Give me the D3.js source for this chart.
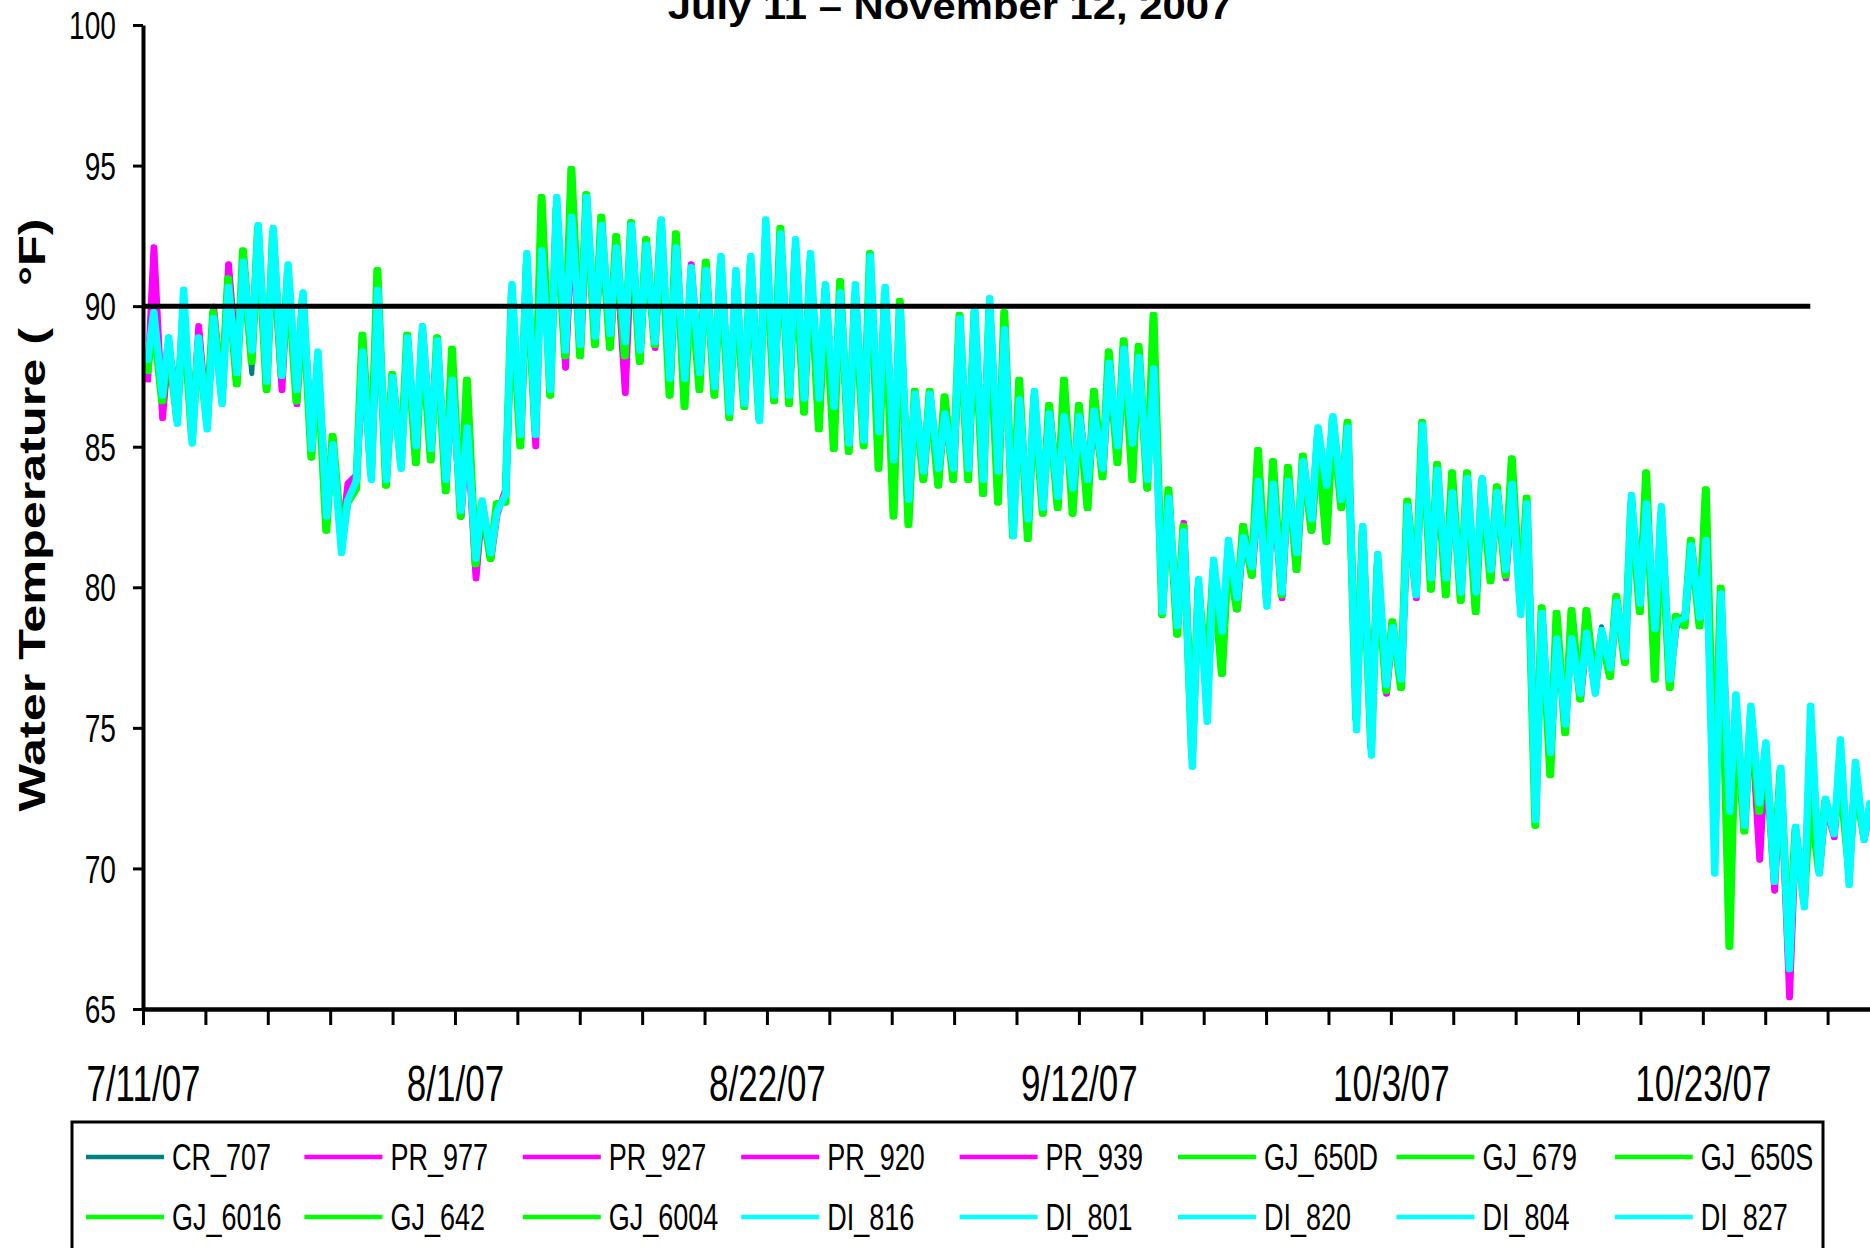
<!DOCTYPE html>
<html><head><meta charset="utf-8">
<script src="https://cdn.jsdelivr.net/npm/d3@7"></script>
<style>html,body{margin:0;padding:0;background:#fff;overflow:hidden;} svg{display:block;}</style>
</head><body>
<svg id="chart" width="1870" height="1248"></svg>
<script>
// ---------- DATA ----------
const titleText = "July 11 \u2013 November 12, 2007";
const yTitleText = "Water Temperature (   \u00B0F)";
const seriesNames = ["CR_707","PR_977","PR_927","PR_920","PR_939","GJ_650D","GJ_679","GJ_650S","GJ_6016","GJ_642","GJ_6004","DI_816","DI_801","DI_820","DI_804","DI_827"];
const seriesGroup = ["CR","PR","PR","PR","PR","GJ","GJ","GJ","GJ","GJ","GJ","DI","DI","DI","DI","DI"];
const yTickValues = [65,70,75,80,85,90,95,100];
const xTickLabels = ["7/11/07","8/1/07","8/22/07","9/12/07","10/3/07","10/23/07"];
const thresholdDays = [0, 111.7];
const thresholdValue = 90;

// daily max / min readings (day 0 = 7/11/07)
const crMax = [89.5,88.9,89.8,88.6,89.2,90.2,91.0,92.0,92.2,91.0,
 90.2,88.0,85.0,83.0,88.0,90.2,87.3,88.7,89.0,88.6,
 87.2,85.5,83.0,82.6,90.4,91.5,91.8,93.5,93.0,93.5,
 92.6,92.0,92.6,92.0,92.8,91.9,91.2,91.1,91.6,91.0,
 91.5,92.8,92.3,92.1,91.6,90.6,90.3,90.6,91.5,90.5,
 89.8,86.7,86.7,86.0,89.3,89.8,90.0,89.0,86.5,86.8,
 86.0,85.9,85.9,86.1,87.8,88.3,88.0,87.6,83.0,81.8,
 80.1,80.8,81.5,81.6,83.6,83.5,83.6,84.3,85.5,85.9,
 85.5,82.0,81.0,78.4,82.7,85.6,84.0,83.2,83.7,83.7,
 83.2,83.5,83.0,78.9,78.0,78.0,78.2,78.6,79.3,83.1,
 82.8,82.7,78.6,81.3,81.5,79.6,76.0,75.6,74.3,73.4,
 71.3,75.5,72.3,74.4,73.6,72.2];
const crMin = [88.2,87.0,86.8,86.5,86.4,86.7,87.7,87.6,87.4,88.0,
 87.2,85.0,82.7,81.4,84.0,84.0,84.0,84.4,85.2,85.1,
 84.0,82.9,81.2,81.4,83.5,85.6,85.6,87.2,88.6,88.8,
 89.1,89.2,88.9,88.6,88.9,87.6,87.6,87.8,87.3,86.4,
 86.7,86.1,87.0,87.0,86.9,86.9,86.6,85.3,85.4,85.7,
 84.7,83.3,84.3,84.4,84.4,84.4,84.0,84.3,82.0,82.6,
 83.0,83.4,83.7,84.0,84.4,85.2,85.3,84.0,79.3,78.8,
 73.8,75.4,78.6,79.8,80.9,79.5,80.0,81.4,82.6,83.8,
 83.3,75.1,74.2,76.7,76.9,79.9,80.5,80.5,80.0,80.0,
 80.8,80.8,79.2,71.9,74.3,75.3,76.4,76.4,77.3,77.7,
 79.6,78.7,76.9,79.1,79.1,70.0,72.2,71.7,72.5,69.7,
 66.6,68.8,70.0,71.4,69.6,71.2];
const prMax = [92.1,88.6,89.5,89.3,90.0,91.5,91.4,92.3,91.8,91.2,
 90.0,87.8,85.0,83.7,87.6,89.8,87.2,88.6,89.3,88.5,
 87.0,85.5,82.9,82.6,89.8,91.2,92.6,93.0,92.5,93.0,
 92.3,91.8,92.2,91.8,92.5,91.8,91.5,91.2,91.5,90.9,
 91.5,92.4,92.0,92.0,91.2,90.2,90.1,90.5,91.0,90.4,
 89.6,86.6,86.5,86.0,89.0,89.5,90.0,89.0,86.5,86.6,
 86.4,86.0,86.3,86.0,87.6,88.0,87.8,87.6,83.0,82.3,
 80.1,80.6,81.5,81.8,83.4,83.2,83.5,84.2,85.0,85.8,
 85.5,82.0,81.0,78.5,82.5,85.4,84.0,83.2,83.5,83.6,
 83.2,83.4,82.8,79.0,78.1,78.3,78.2,78.4,79.3,82.8,
 82.8,82.6,78.6,81.2,81.4,79.6,75.8,75.5,74.2,73.2,
 71.2,75.0,72.2,73.9,73.4,72.2];
const prMin = [87.3,86.0,86.3,85.4,85.8,86.7,87.8,88.2,87.6,87.0,
 86.5,85.3,83.0,81.8,84.0,84.1,84.0,84.6,84.5,85.0,
 83.8,82.5,80.3,81.0,83.5,85.2,85.0,87.5,87.8,88.3,
 89.0,88.6,86.9,88.4,88.5,87.0,87.2,87.5,87.0,86.5,
 86.4,86.5,86.9,86.6,86.5,86.0,86.2,85.0,85.4,85.0,
 84.3,83.4,83.9,84.0,84.0,84.0,84.0,84.3,82.0,82.5,
 83.0,83.3,83.5,83.7,84.0,84.6,84.6,84.2,79.2,78.8,
 74.0,75.8,78.2,79.2,80.4,79.6,79.6,80.8,82.0,83.2,
 83.0,75.5,74.6,76.2,76.6,79.6,80.0,80.1,79.9,79.7,
 80.4,80.3,79.4,72.5,74.0,75.3,76.0,76.3,77.0,77.8,
 79.6,77.0,76.8,78.8,78.8,70.5,72.2,71.4,70.3,69.2,
 65.4,68.7,69.9,71.1,69.6,71.0];
const gjMax = [89.5,88.6,89.8,88.6,89.8,91.0,92.0,92.8,92.6,91.2,
 90.3,88.0,85.4,83.0,89.0,91.3,87.6,89.0,89.0,88.9,
 88.5,87.4,83.0,83.0,90.5,91.5,93.9,93.5,94.9,94.0,
 93.2,92.5,93.0,92.4,93.0,92.6,91.0,91.6,91.5,90.6,
 91.5,92.4,92.8,92.0,91.6,90.6,90.9,90.4,91.9,90.5,
 90.2,87.0,87.0,86.8,89.7,89.8,90.0,89.8,87.4,86.8,
 86.5,87.4,86.5,87.0,88.4,88.8,88.6,89.7,83.5,82.2,
 80.0,80.6,81.2,82.2,84.9,84.5,84.3,84.7,85.4,86.0,
 85.9,82.0,80.8,78.8,83.1,85.9,84.4,84.1,84.1,83.8,
 83.6,84.6,83.2,79.3,79.1,79.2,79.2,78.3,79.7,83.0,
 84.1,82.6,79.0,81.7,83.5,80.0,75.6,75.4,74.2,73.5,
 71.4,72.5,72.4,73.2,73.0,72.2];
const gjMin = [87.6,86.6,86.0,85.3,85.9,86.8,87.2,88.0,87.0,87.5,
 86.6,84.6,82.0,81.8,83.5,84.0,83.6,84.4,84.4,84.5,
 83.4,82.5,80.8,81.0,83.0,85.0,85.6,86.8,88.2,88.2,
 88.6,88.5,88.2,88.0,88.6,86.8,86.4,87.0,86.8,86.0,
 86.4,86.0,86.6,86.5,86.2,85.6,84.9,84.8,85.0,84.2,
 82.5,82.2,83.8,83.6,83.8,83.8,83.3,83.0,81.8,81.7,
 82.6,82.8,82.6,82.8,83.9,84.4,83.8,83.5,79.0,78.3,
 74.0,76.7,76.9,79.2,80.4,79.6,79.7,80.6,82.0,81.6,
 82.8,75.3,74.3,76.3,76.4,79.8,79.9,79.7,79.5,79.1,
 80.2,80.4,79.4,71.5,73.3,74.8,76.0,76.4,76.8,77.3,
 79.1,76.7,76.4,78.6,78.6,72.0,67.2,71.3,72.0,69.8,
 67.0,68.8,69.9,71.4,70.0,71.2];
const diMax = [89.8,88.9,90.6,88.9,89.6,90.7,91.6,92.9,92.8,91.5,
 90.5,88.4,85.1,83.1,88.4,90.6,87.5,88.9,89.3,88.8,
 87.4,85.7,83.1,82.7,90.8,91.9,92.0,93.9,93.2,93.9,
 92.9,92.1,92.9,92.2,93.1,92.1,91.4,91.3,91.8,91.3,
 91.8,93.1,92.6,92.4,91.9,90.8,90.5,90.8,91.8,90.7,
 90.0,86.9,86.9,86.2,89.6,90.0,90.3,89.2,86.7,87.0,
 86.2,86.1,86.1,86.3,88.0,88.5,88.2,87.8,83.2,82.0,
 80.3,81.0,81.7,81.8,83.8,83.7,83.8,84.5,85.7,86.1,
 85.7,82.2,81.2,78.6,82.9,85.8,84.2,83.4,83.9,83.9,
 83.4,83.7,83.0,79.1,78.2,78.2,78.4,78.5,79.5,83.3,
 83.0,82.9,78.8,81.5,81.7,79.8,76.2,75.8,74.5,73.6,
 71.5,75.8,72.5,74.6,73.8,72.4];
const diMin = [88.0,86.8,85.8,85.1,85.6,86.5,87.6,88.4,87.3,87.5,
 87.0,84.9,82.5,81.2,83.8,83.8,83.8,84.2,85.0,84.9,
 83.8,82.7,81.0,81.2,83.3,85.4,85.4,87.0,88.4,88.6,
 88.9,89.0,88.7,88.4,88.7,87.4,87.4,87.6,87.1,86.2,
 86.5,85.9,86.8,86.8,86.7,86.7,86.4,85.1,85.2,85.5,
 84.5,83.1,84.1,84.2,84.2,84.2,83.8,84.1,81.8,82.4,
 82.8,83.2,83.5,83.8,84.2,85.0,85.1,83.8,79.1,78.6,
 73.6,75.2,78.4,79.6,80.7,79.3,79.8,81.2,82.4,83.6,
 83.1,74.9,74.0,76.5,76.7,79.7,80.3,80.3,79.8,79.8,
 80.6,80.6,79.0,71.7,74.1,75.1,76.2,76.2,77.1,77.5,
 79.4,78.5,76.7,78.9,78.9,69.8,72.0,71.5,72.3,69.5,
 66.4,68.6,69.8,71.2,69.4,71.0];

// ---------- STYLE / LAYOUT ----------
const FONT = "'Liberation Sans', Arial, Helvetica, sans-serif";
const groupStyle = {
  CR: {color:"#008080", max:crMax, min:crMin, phase:[0.29,0.71]},
  PR: {color:"#FF00FF", max:prMax, min:prMin, phase:[0.31,0.73]},
  GJ: {color:"#00FF00", max:gjMax, min:gjMin, phase:[0.28,0.70]},
  DI: {color:"#00FFFF", max:diMax, min:diMin, phase:[0.30,0.72]}
};
const xTickStep = 4.18;

const svg = d3.select("#chart");
const x = d3.scaleLinear().domain([0, 115.7]).range([143, 1870]);
const y = d3.scaleLinear().domain([65, 100]).range([1009, 25]);

svg.append("defs").append("clipPath").attr("id","plotclip")
  .append("rect").attr("x",143).attr("y",0).attr("width",1870-143).attr("height",1009);

// series lines (series of one site group share the readings; small time offsets between loggers)
const line = d3.line().x(p => x(p[0])).y(p => y(p[1]));
const plot = svg.append("g").attr("clip-path","url(#plotclip)");
const groupCount = {}, groupIndex = [];
seriesGroup.forEach(gname => { groupIndex.push(groupCount[gname] || 0); groupCount[gname] = (groupCount[gname] || 0) + 1; });
seriesNames.forEach((name, i) => {
  const gname = seriesGroup[i];
  const g = groupStyle[gname];
  const shift = (groupIndex[i] - (groupCount[gname] - 1) / 2) * 0.04;
  const pts = [];
  for (let d = 0; d < g.max.length; d++) {
    pts.push([d + g.phase[0] + shift, g.min[d]]);
    pts.push([d + g.phase[1] + shift, g.max[d]]);
  }
  plot.append("path").datum(pts)
    .attr("d", line)
    .attr("fill","none")
    .attr("stroke", g.color)
    .attr("stroke-width", 5)
    .attr("stroke-linejoin","round");
});

// threshold line
svg.append("path").datum(thresholdDays.map(d => [d, thresholdValue]))
  .attr("d", line).attr("stroke","#000").attr("stroke-width",5).attr("fill","none");

// y axis
const yAxis = d3.axisLeft(y).tickValues(yTickValues).tickSize(10).tickSizeOuter(0);
const gy = svg.append("g").attr("transform","translate(143,0)").call(yAxis);
gy.select(".domain").attr("stroke-width",4);
gy.selectAll(".tick line").attr("stroke-width",3);
const ySx = 0.74;
gy.selectAll(".tick text")
  .attr("font-family",FONT).attr("font-size",38).attr("fill","#000")
  .attr("x", -27 / ySx).attr("dy","0.36em")
  .attr("transform",`scale(${ySx},1)`);

// x axis
const xTickValues = d3.range(28).map(k => k * xTickStep);
const xAxis = d3.axisBottom(x).tickValues(xTickValues).tickSize(16).tickSizeOuter(0)
  .tickFormat((d, i) => i % 5 === 0 ? (xTickLabels[i / 5] || "") : "");
const gx = svg.append("g").attr("transform","translate(0,1009)").call(xAxis);
gx.select(".domain").attr("stroke-width",4.5);
gx.selectAll(".tick line").attr("stroke-width",3);
gx.selectAll(".tick text")
  .attr("font-family",FONT).attr("font-size",50).attr("fill","#000")
  .attr("y",92).attr("dy",null)
  .attr("transform","scale(0.7,1)");

// title (its top is cut by the frame, as in the reference)
svg.append("g").attr("transform","translate(950,19) scale(1.13,1)")
  .append("text").attr("text-anchor","middle")
  .attr("font-family",FONT).attr("font-weight","bold").attr("font-size",37)
  .text(titleText);

// y axis title
svg.append("g").attr("transform","translate(45,515) rotate(-90) scale(1.36,1)")
  .append("text").attr("text-anchor","middle").style("white-space","pre")
  .attr("font-family",FONT).attr("font-weight","bold").attr("font-size",37)
  .text(yTitleText);

// legend
const legend = svg.append("g");
legend.append("rect").attr("x",72).attr("y",1122).attr("width",1751).attr("height",220)
  .attr("fill","none").attr("stroke","#000").attr("stroke-width",3);
seriesNames.forEach((name, i) => {
  const col = i % 8, row = Math.floor(i / 8);
  const lx = 86 + col * 218.4, ly = 1157 + row * 60;
  legend.append("line").attr("x1",lx).attr("x2",lx+78).attr("y1",ly).attr("y2",ly)
    .attr("stroke", groupStyle[seriesGroup[i]].color).attr("stroke-width",4.5);
  legend.append("g").attr("transform",`translate(${lx+86},${ly+13}) scale(0.75,1)`)
    .append("text").attr("font-family",FONT).attr("font-size",36).attr("fill","#000")
    .text(name);
});
</script>
</body></html>
